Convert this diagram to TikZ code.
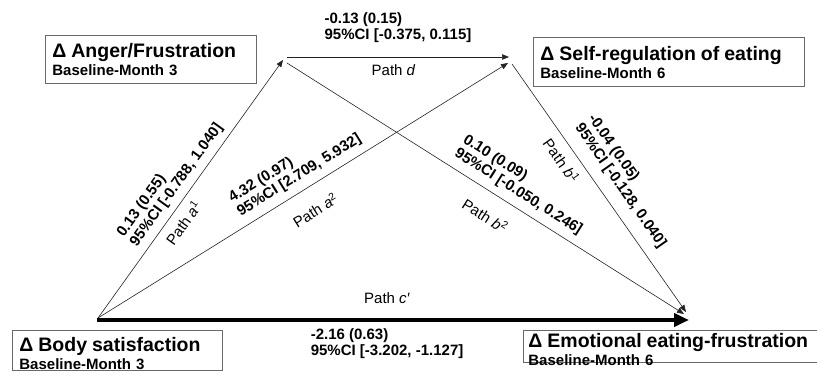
\documentclass[tikz,border=0pt]{standalone}
\usepackage{fontspec}
\setmainfont{Liberation Sans}
\usetikzlibrary{arrows.meta}
\definecolor{linegray}{RGB}{35,35,35}
\definecolor{boxgray}{RGB}{105,105,105}
\newcommand{\vartitle}[1]{{\fontsize{19.5}{18}\selectfont #1}}

\begin{document}
\begin{tikzpicture}[
  x=1pt, y=-1pt,
  var/.style={draw=boxgray, line width=0.8pt, anchor=north west, align=left, inner xsep=7pt, inner ysep=8pt, font=\fontsize{15}{18}\selectfont\bfseries},
  arr/.style={-{Triangle[length=7pt,width=5.5pt]}, draw=linegray, line width=0.6pt},
  bigarr/.style={-{Triangle[length=15pt,width=13pt]}, draw=black, line width=4.2pt},
  est/.style={font=\fontsize{15}{16}\selectfont\bfseries, align=left},
  pth/.style={font=\fontsize{15}{15}\selectfont}
]
\useasboundingbox (0,0) rectangle (817,375);
\clip (0,0) rectangle (817,375);

% variables
\node[var, text width=197pt] (anger) at (45,35) {\vartitle{Δ Anger/Frustration}\\Baseline-Month 3};
\node[var, text width=257pt, inner ysep=8.5pt] (selfreg) at (533,37) {\vartitle{Δ Self-regulation of eating}\\Baseline-Month 6};
\node[var, text width=196pt, inner ysep=7pt, text depth=12pt] (body) at (12,330) {\vartitle{Δ Body satisfaction}\\Baseline-Month 3};
\node[var, text width=300pt, inner xsep=5pt, inner ysep=3pt, text depth=12pt] (emo) at (523,330) {\vartitle{Δ Emotional eating-frustration}\\Baseline-Month 6};

% path ends
\coordinate (bodyA) at (98,318);
\coordinate (bodyC) at (97,320);
\coordinate (angerIn) at (283,60);
\coordinate (angerD) at (287,57);
\coordinate (angerB) at (287,63);
\coordinate (selfD) at (509,57);
\coordinate (selfA) at (508,63);
\coordinate (selfB) at (512,64);
\coordinate (emoB1) at (686,312);
\coordinate (emoB2) at (684,314);
\coordinate (emoC) at (689,320);

% paths
\draw[arr] (angerD) -- node[est, above=11pt, pos=0.5] {-0.13 (0.15)\\95\%CI [-0.375, 0.115]} node[pth, below=4pt, pos=0.48] {Path \textit{d}} (selfD);
\draw[arr] (bodyA) -- node[est, sloped, above=3pt, pos=0.485] {0.13 (0.55)\\95\%CI [-0.788, 1.040]} node[pth, sloped, below=4pt, pos=0.40] {Path \textit{a}\textsuperscript{1}} (angerIn);
\draw[arr] (bodyA) -- node[est, sloped, above=4pt, pos=0.51] {4.32 (0.97)\\95\%CI [2.709, 5.932]} node[pth, sloped, below=13pt, pos=0.5] {Path \textit{a}\textsuperscript{2}} (selfA);
\draw[arr] (angerB) -- node[est, sloped, above=4pt, pos=0.563] {0.10 (0.09)\\95\%CI [-0.050, 0.246]} node[pth, sloped, below=13pt, pos=0.53] {Path \textit{b}\textsuperscript{2}} (emoB2);
\draw[arr] (selfB) -- node[est, sloped, above=8pt, pos=0.535] {-0.04 (0.05)\\95\%CI [-0.128, 0.040]} node[pth, sloped, below=5pt, pos=0.355] {Path \textit{b}\textsuperscript{1}} (emoB1);
\draw[bigarr] (bodyC) -- node[pth, above=11pt, pos=0.49] {Path \textit{c′}} node[est, below=3pt, pos=0.49] {-2.16 (0.63)\\95\%CI [-3.202, -1.127]} (emoC);
\end{tikzpicture}
\end{document}
